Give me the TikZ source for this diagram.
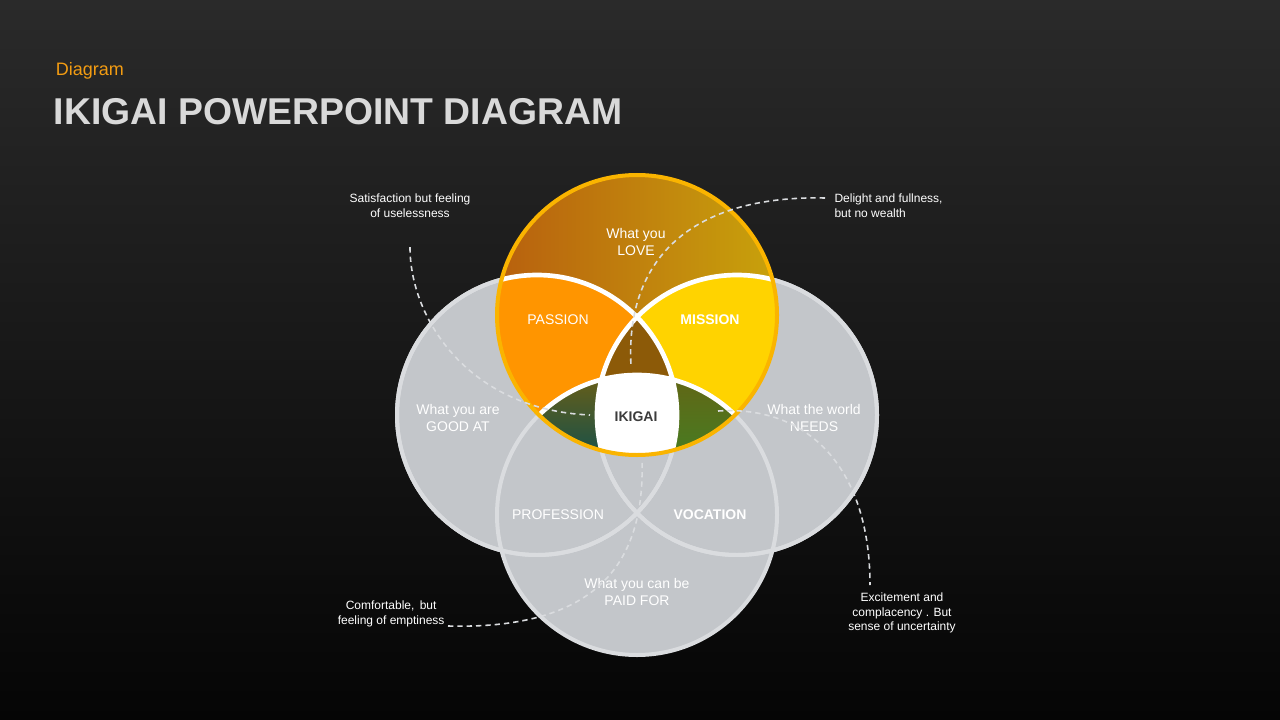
\documentclass[tikz,border=0pt]{standalone}
\usepackage{fontspec}
\setmainfont{Liberation Sans}
\definecolor{bgtop}{HTML}{2A2A2A}
\definecolor{bgbot}{HTML}{050505}
\definecolor{ringgrey}{HTML}{C3C6CA}
\definecolor{ringedge}{HTML}{DADCDF}
\definecolor{passion}{HTML}{FF9500}
\definecolor{mission}{HTML}{FFD300}
\definecolor{loveL}{HTML}{B8600E}
\definecolor{loveR}{HTML}{C8A20C}
\definecolor{ttl}{HTML}{D9D9D9}
\definecolor{sub}{HTML}{F39C12}
\tikzset{every picture/.style={line width=0.75pt}}
\tikzset{
  lbl/.style={text=white,font=\fontsize{10.5}{12.5}\selectfont,align=center,inner sep=0.75pt},
  note/.style={text=white,font=\fontsize{9}{11}\selectfont,align=center,inner sep=0.75pt},
  link/.style={draw=ringedge,dashed,dash pattern=on 4pt off 3pt,line width=1.2pt}
}
\begin{document}
\begin{tikzpicture}[x=0.75pt,y=0.75pt,yscale=-1,xscale=1]
	%Background
	\shade [top color=bgtop,bottom color=bgbot] (0,0) rectangle (1280,720);
	\useasboundingbox (0,0) rectangle (1280,720);
	
	% Title
	\node [anchor=west,text=sub,font=\fontsize{13.5}{15}\selectfont] (kicker) at (51,71) {Diagram};
	\node [anchor=west,text=ttl,font=\fontsize{28}{32}\selectfont\bfseries] (title) at (49,112) {IKIGAI POWERPOINT DIAGRAM};
	
	%Grey circles
	\draw [fill=ringgrey,draw=ringedge,line width=3pt] (537,415) circle (140) (737,415) circle (140) (637,515) circle (140);
	\draw [draw=ringedge,line width=3pt] (537,415) circle (140) (737,415) circle (140);
	%Top circle
	\shade [left color=loveL,right color=loveR] (637,315) circle (140);
	%Passion and mission
	\begin{scope}
		\clip (637,315) circle (140);
		\fill [passion] (537,415) circle (140);
		\fill [mission] (737,415) circle (140);
		\begin{scope}
			\clip (537,415) circle (140);
			\fill [color={rgb,255:red,140;green,90;blue,8}] (737,415) circle (140);
			\clip (637,515) circle (140);
			\shade [top color={rgb,255:red,110;green,95;blue,20},bottom color={rgb,255:red,20;green,80;blue,75}] (480,370) rectangle (640,460);
		\end{scope}
		\begin{scope}
			\clip (737,415) circle (140);
			\clip (637,515) circle (140);
			\shade [top color={rgb,255:red,100;green,100;blue,20},bottom color={rgb,255:red,70;green,125;blue,35}] (630,370) rectangle (790,460);
		\end{scope}
		\begin{scope}
			\clip (537,415) circle (140);
			\clip (737,415) circle (140);
			\fill [white] (637,515) circle (140);
		\end{scope}
		\draw [white,line width=3.5pt] (537,415) circle (140) (737,415) circle (140) (637,515) circle (140);
	\end{scope}
	\draw [draw={rgb,255:red,250;green,180;blue,0},line width=3pt] (637,315) circle (140);
	
	% Labels
	\node [lbl] (love) at (636,242) {What you\\LOVE};
	\node [lbl] (passiontxt) at (558,320) {PASSION};
	\node [lbl,font=\fontsize{10.5}{12.5}\selectfont\bfseries] (missiontxt) at (710,320) {MISSION};
	\node [lbl] (good) at (458,418) {What you are\\GOOD AT};
	\node [lbl] (needs) at (814,418) {What the world\\NEEDS};
	\node [lbl,text={rgb,255:red,60;green,60;blue,60},font=\fontsize{10.5}{12.5}\selectfont\bfseries] (ikigai) at (636,417) {IKIGAI};
	\node [lbl] (profession) at (558,515) {PROFESSION};
	\node [lbl,font=\fontsize{10.5}{12.5}\selectfont\bfseries] (vocation) at (710,515) {VOCATION};
	\node [lbl] (paid) at (637,592) {What you can be\\PAID FOR};
	
	% Notes
	\node [note] (nuseless) at (410,206) {Satisfaction but feeling\\of uselessness};
	\node [note,align=left,anchor=west] (nwealth) at (833,206) {Delight and fullness,\\but no wealth};
	\node [note,anchor=east] (nempty) at (446,614) {Comfortable,\;\,but\\feeling of emptiness};
	\node [note] (nuncertain) at (902,613) {Excitement and\\complacency . But\\sense of uncertainty};
	
	\coordinate (pleft) at (590,415);
	\coordinate (ptop) at (631,366);
	\coordinate (pright) at (718,411);
	\coordinate (pbottom) at (642,460);
	
	% Dashed links
	\draw [link] (nuseless.south) ++(0,28) .. controls (410,320) and (470,410) .. (pleft);
	\draw [link] (nwealth.west) ++(-8,-8) .. controls (690,195) and (625,260) .. (ptop);
	\draw [link] (pright) .. controls (810,405) and (870,470) .. (870,585);
	\draw [link] (nempty.east) ++(2,12) .. controls (600,630) and (645,560) .. (pbottom);
\end{tikzpicture}
\end{document}
